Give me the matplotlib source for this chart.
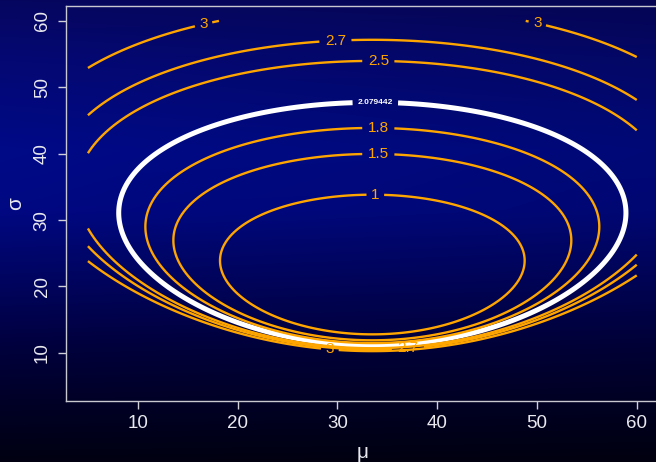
import numpy as np
import matplotlib
matplotlib.use('Agg')
import matplotlib.pyplot as plt

# ---- values ----
mu_range = (5, 60)          # grid of mu
sigma_range = (5, 60)       # grid of sigma
mu_hat = 33.5               # centre of the contours
sigma_hat = 19.0            # sigma at the minimum
shape_a = 3.78              # weight of the sigma term
shape_p = 2.4               # power of the sigma term
shape_c = 1.96              # curvature in the mu direction
orange_levels = [1, 1.5, 1.8, 2.5, 2.7, 3]
white_level = 2.079442
x_ticks = [10, 20, 30, 40, 50, 60]
y_ticks = [10, 20, 30, 40, 50, 60]
x_label = "μ"
y_label = "σ"

# label anchor points (layout)
label_pos = {
    1: [(33.8, 33.8)],
    1.5: [(34.1, 40.0)],
    1.8: [(34.1, 44.0)],
    2.5: [(34.1, 53.9)],
    2.7: [(29.8, 57.0), (37.1, 10.0)],
    3: [(16.6, 59.4), (50.0, 59.4), (29.2, 9.8)],
}
white_label_pos = [(33.8, 47.9)]

# ---- field ----
mu = np.linspace(*mu_range, 500)
sig = np.linspace(*sigma_range, 500)
M, S = np.meshgrid(mu, sig)
T = S / sigma_hat
Z = (shape_a * (np.log(T) + (T ** -shape_p - 1) / shape_p)
     + shape_c * (M - mu_hat) ** 2 / S ** 2)

W, H = 656, 462
fig = plt.figure(figsize=(W / 100, H / 100), dpi=100)

# background gradient
bg = fig.add_axes([0, 0, 1, 1])
bg.axis('off')
stops_y = np.array([0, 60, 150, 210, 280, 350, 400, 462]) / 462
stops_c = np.array([[6, 6, 95], [4, 8, 115], [0, 10, 135], [0, 8, 130],
                    [0, 4, 95], [0, 0, 60], [0, 0, 40], [0, 0, 18]]) / 255
yy = np.linspace(0, 1, H)
col = np.stack([np.interp(yy, stops_y, stops_c[:, k]) for k in range(3)], axis=-1)
img = np.repeat(col[:, None, :], W, axis=1)
img = img * (1 - 0.12 * np.linspace(0, 1, W))[None, :, None]
bg.imshow(np.clip(img, 0, 1), aspect='auto', extent=[0, 1, 0, 1], origin='upper')
bg.set_xlim(0, 1); bg.set_ylim(0, 1)

left, right, top, bottom = 66, 658.7, 6.3, 400.7
ax = fig.add_axes([left / W, 1 - bottom / H, (right - left) / W, (bottom - top) / H])
ax.patch.set_alpha(0)
ax.set_xlim(2.8, 62.2)
ax.set_ylim(2.8, 62.2)

font = 'Liberation Sans'
# white contour
cw = ax.contour(M, S, Z, levels=[white_level], colors='white', linewidths=3.6, zorder=2)
tw = ax.clabel(cw, inline=True, inline_spacing=3, manual=white_label_pos,
               fmt={white_level: '2.079442'}, fontsize=6, colors='white')
for t in tw:
    t.set_rotation(0)
    t.set_fontweight('bold')
    t.set_family(font)

for lev in orange_levels:
    cs = ax.contour(M, S, Z, levels=[lev], colors='orange', linewidths=1.7, zorder=3)
    txt = ax.clabel(cs, inline=True, inline_spacing=4, manual=label_pos[lev],
                    fmt={lev: f"{lev:g}"}, fontsize=11, colors='orange')
    for t in txt:
        t.set_rotation(0)
        t.set_family(font)

ax.set_xticks(x_ticks)
ax.set_yticks(y_ticks)
ax.tick_params(colors='#d0d0d8', labelcolor='#e8e8ee', labelsize=13.5, length=6, width=1,
               direction='out')
ax.tick_params(axis='x', pad=4)
ax.tick_params(axis='y', labelrotation=90, pad=5)
for lab in ax.get_xticklabels() + ax.get_yticklabels():
    lab.set_family(font)
for lab in ax.get_yticklabels():
    lab.set_va('center')
for sp in ax.spines.values():
    sp.set_color('#c8c8d0')
    sp.set_linewidth(1)
ax.set_xlabel(x_label, color='#e8e8ee', fontsize=15, family=font, labelpad=8)
ax.set_ylabel(y_label, color='#e8e8ee', fontsize=15, family=font, labelpad=6)

fig.savefig('out.png', dpi=100)
